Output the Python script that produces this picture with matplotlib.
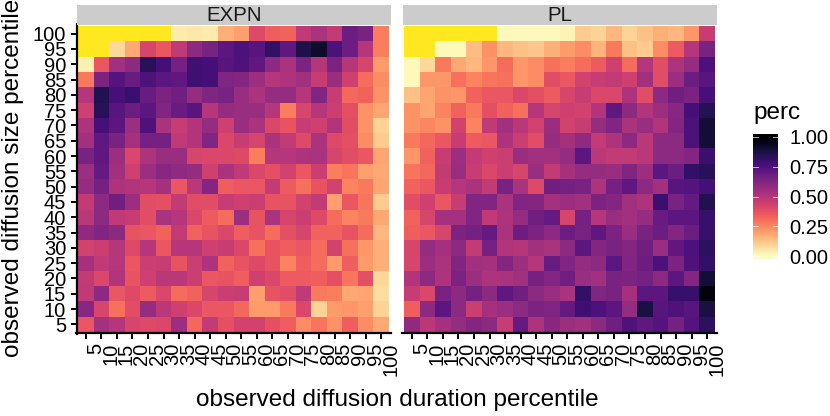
import matplotlib
matplotlib.use("Agg")
from matplotlib import pyplot as plt
import numpy as np

plt.rcParams['font.family'] = ['Liberation Sans', 'DejaVu Sans']

W, H = 830, 416
n = np.nan
pct_labels = [str(i) for i in range(5, 105, 5)]

# rows run from percentile 100 (top) down to 5
expn = [
    [n, n, n, n, n, n, .04, .05, .04, .17, .20, .40, .34, .33, .48, .53, .47, .68, .65, .27],
    [n, n, .08, .18, .42, .36, .48, .60, .65, .72, .76, .73, .82, .71, .87, .92, .76, .68, .50, .27],
    [.03, .36, .55, .60, .84, .78, .66, .79, .78, .73, .75, .71, .60, .53, .64, .50, .64, .50, .42, .21],
    [.28, .64, .74, .69, .75, .72, .71, .79, .78, .63, .62, .56, .50, .52, .55, .46, .57, .44, .31, .24],
    [.50, .86, .77, .80, .69, .64, .67, .58, .63, .65, .57, .53, .58, .58, .50, .63, .46, .32, .33, .23],
    [.44, .84, .73, .68, .72, .63, .69, .73, .50, .58, .57, .57, .50, .27, .42, .50, .45, .38, .23, .19],
    [.52, .77, .72, .56, .75, .53, .46, .51, .58, .44, .57, .53, .41, .37, .46, .44, .51, .39, .23, .09],
    [.55, .71, .65, .54, .66, .66, .48, .51, .63, .41, .46, .42, .53, .47, .40, .53, .40, .38, .24, .11],
    [.65, .71, .56, .41, .52, .57, .57, .42, .41, .41, .40, .27, .50, .50, .52, .53, .42, .39, .36, .19],
    [.56, .70, .55, .44, .56, .61, .59, .58, .44, .53, .48, .41, .38, .43, .36, .45, .27, .29, .20, .18],
    [.58, .66, .52, .51, .50, .54, .36, .49, .62, .34, .36, .36, .47, .35, .30, .37, .43, .26, .28, .19],
    [.47, .60, .67, .56, .39, .38, .47, .39, .39, .46, .44, .45, .37, .37, .43, .47, .20, .36, .29, .11],
    [.49, .60, .48, .46, .39, .53, .50, .41, .35, .31, .56, .37, .53, .42, .45, .40, .31, .26, .28, .18],
    [.59, .63, .60, .37, .36, .33, .47, .33, .37, .41, .34, .37, .31, .38, .42, .33, .33, .37, .31, .15],
    [.43, .45, .50, .40, .50, .36, .50, .50, .44, .46, .41, .30, .37, .34, .36, .31, .43, .30, .22, .17],
    [.54, .48, .50, .36, .45, .46, .37, .45, .52, .33, .37, .40, .37, .26, .34, .31, .21, .34, .21, .17],
    [.47, .41, .51, .37, .44, .49, .49, .45, .36, .37, .34, .44, .41, .35, .35, .34, .38, .29, .38, .08],
    [.48, .60, .36, .40, .35, .41, .31, .33, .42, .45, .46, .20, .37, .39, .48, .28, .27, .18, .19, .07],
    [.61, .42, .30, .39, .58, .49, .44, .41, .36, .36, .32, .21, .21, .28, .41, .09, .21, .22, .20, .09],
    [.36, .54, .50, .42, .40, .41, .56, .32, .47, .38, .43, .43, .38, .34, .24, .29, .23, .34, .24, .18],
]
pl = [
    [n, n, n, n, n, n, .01, .01, .01, .01, .02, .11, .09, .15, .09, .13, .17, .15, .22, .46],
    [n, n, .01, .01, .14, .23, .15, .13, .12, .17, .21, .24, .16, .28, .13, .11, .24, .35, .50, .65],
    [.01, .08, .28, .18, .15, .22, .31, .22, .24, .30, .27, .31, .35, .44, .31, .50, .39, .52, .58, .76],
    [.01, .22, .22, .30, .26, .29, .30, .22, .24, .39, .36, .43, .46, .47, .44, .55, .39, .56, .68, .73],
    [.13, .19, .23, .22, .33, .36, .36, .41, .38, .35, .42, .46, .41, .41, .52, .39, .60, .67, .64, .77],
    [.23, .19, .26, .33, .28, .38, .33, .30, .50, .42, .44, .43, .51, .71, .60, .51, .56, .61, .78, .85],
    [.23, .25, .23, .43, .26, .48, .55, .49, .43, .57, .43, .46, .58, .63, .53, .57, .51, .62, .76, .90],
    [.28, .32, .36, .46, .35, .36, .52, .45, .39, .58, .54, .59, .47, .52, .60, .49, .60, .60, .76, .90],
    [.22, .33, .46, .56, .47, .44, .45, .57, .55, .55, .58, .72, .49, .47, .47, .49, .60, .60, .62, .80],
    [.29, .32, .47, .57, .46, .41, .45, .42, .57, .47, .54, .58, .58, .57, .63, .56, .72, .68, .82, .84],
    [.33, .36, .46, .50, .53, .47, .65, .53, .40, .67, .66, .65, .52, .66, .71, .60, .55, .73, .74, .78],
    [.39, .44, .36, .46, .63, .63, .53, .63, .62, .54, .56, .55, .64, .62, .55, .52, .80, .65, .70, .86],
    [.33, .42, .54, .54, .63, .48, .52, .58, .67, .70, .42, .66, .50, .57, .55, .58, .69, .72, .72, .81],
    [.34, .36, .42, .64, .66, .70, .53, .68, .64, .60, .68, .65, .71, .64, .57, .65, .68, .62, .68, .81],
    [.42, .58, .54, .60, .47, .66, .51, .50, .55, .53, .60, .72, .62, .65, .62, .67, .57, .71, .76, .83],
    [.42, .56, .53, .63, .55, .54, .62, .56, .50, .69, .63, .58, .60, .72, .63, .68, .76, .64, .75, .82],
    [.51, .60, .52, .64, .56, .52, .53, .55, .66, .62, .67, .57, .55, .65, .64, .66, .60, .72, .62, .90],
    [.46, .41, .65, .60, .66, .60, .71, .67, .60, .57, .53, .82, .63, .65, .54, .72, .72, .81, .81, .97],
    [.34, .60, .72, .60, .45, .54, .56, .60, .64, .63, .70, .79, .76, .72, .58, .88, .73, .75, .73, .88],
    [.59, .49, .54, .58, .62, .60, .46, .70, .52, .61, .56, .55, .60, .67, .75, .71, .74, .66, .74, .83],
]
panels = ['EXPN', 'PL']
legend_ticks = [0, .25, .5, .75, 1]

cmap = plt.get_cmap('magma_r').copy()
cmap.set_bad('#FFE81F')


def px_axes(fig, x0, y0, x1, y1):
    return fig.add_axes([x0 / W, 1 - y1 / H, (x1 - x0) / W, (y1 - y0) / H])


fig = plt.figure(figsize=(W / 100, H / 100), dpi=100)
lefts = [78, 404]
for name, data, left in zip(panels, [expn, pl], lefts):
    ax = px_axes(fig, left, 26, left + 311, 332)
    ax.pcolormesh(np.arange(21) + .5, np.arange(21) + .5, np.array(data)[::-1],
                  cmap=cmap, vmin=0, vmax=1, linewidth=0, rasterized=True)
    ax.set_xlim(.5, 20.5)
    ax.set_ylim(.5, 20.5)
    for s in ['top', 'right']:
        ax.spines[s].set_visible(False)
    # set_position resets the ticks, so it has to come before the tick labels
    ax.spines['bottom'].set_linewidth(1.6)
    ax.spines['bottom'].set_position(('outward', 1))
    ax.spines['left'].set_linewidth(1.6)
    ax.spines['left'].set_position(('outward', 1))
    ax.set_xticks(range(1, 21))
    ax.set_xticklabels(pct_labels)
    ax.tick_params(axis='x', length=4, width=1.4, pad=3, labelsize=14.5, labelrotation=90)
    ax.spines['bottom'].set_bounds(.4, 20.6)
    # labels sit to the right of their tick, as in the original
    for lab in ax.get_xticklabels():
        lab.set_ha('left')
    if left == lefts[0]:
        ax.set_yticks(range(1, 21))
        ax.set_yticklabels(pct_labels)
        ax.tick_params(axis='y', length=4, width=1.4, pad=3.5, labelsize=14.5)
        ax.spines['left'].set_bounds(.4, 20.6)
    else:
        ax.set_yticks([])
        ax.spines['left'].set_visible(False)

    strip = px_axes(fig, left - 1, 5, left + 313, 25)
    strip.set_facecolor('#CCCCCC')
    strip.set_xticks([])
    strip.set_yticks([])
    for s in strip.spines.values():
        s.set_visible(False)
    strip.text(.5, .46, name, ha='center', va='center', fontsize=14.8, color='#1A1A1A',
               transform=strip.transAxes)

fig.text(397 / W, 1 - 400 / H, 'observed diffusion duration percentile', ha='center',
         va='center', fontsize=17.5)
fig.text(13 / W, 1 - 178 / H, 'observed diffusion size percentile', ha='center',
         va='center', rotation=90, fontsize=17.5)

# legend colour bar
cax = px_axes(fig, 753, 134, 778, 259)
grad = np.linspace(1.025, -.025, 200).reshape(-1, 1)
cax.imshow(grad, cmap=cmap, vmin=0, vmax=1, aspect='auto', extent=[0, 1, -.025, 1.025])
cax.set_xlim(0, 1)
cax.set_ylim(-.025, 1.025)
cax.set_xticks([])
cax.yaxis.tick_right()
cax.set_yticks(legend_ticks)
cax.set_yticklabels(['%.2f' % t for t in legend_ticks])
cax.tick_params(axis='y', length=0, pad=8, labelsize=14.5)
for s in cax.spines.values():
    s.set_visible(False)
for t in legend_ticks:
    cax.plot([0, .2], [t, t], color='white', lw=.6, alpha=.8)
    cax.plot([.8, 1], [t, t], color='white', lw=.6, alpha=.8)
fig.text(753 / W, 1 - 113 / H, 'perc', ha='left', va='center', fontsize=17.5)

fig.savefig('out.png', dpi=100)
